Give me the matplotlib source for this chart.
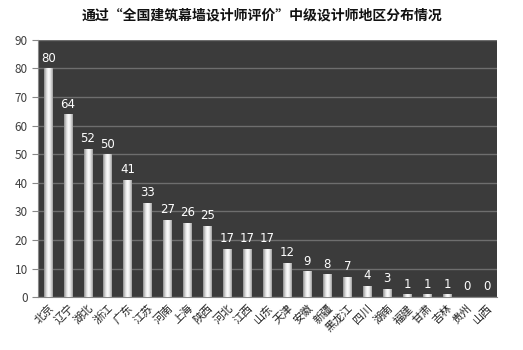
import matplotlib.pyplot as plt
import numpy as np
from matplotlib.colors import LinearSegmentedColormap

plt.rcParams['font.family'] = ['Noto Sans CJK SC', 'DejaVu Sans']

regions = ['北京', '辽宁', '湖北', '浙江', '广东', '江苏', '河南', '上海', '陕西', '河北',
           '江西', '山东', '天津', '安徽', '新疆', '黑龙江', '四川', '湖南', '福建', '甘肃',
           '吉林', '贵州', '山西']
counts = [80, 64, 52, 50, 41, 33, 27, 26, 25, 17, 17, 17, 12, 9, 8, 7, 4, 3, 1, 1, 1, 0, 0]
title = '通过“全国建筑幕墙设计师评价”中级设计师地区分布情况'

fig = plt.figure(figsize=(5.23, 3.5), dpi=100)
ax = fig.add_axes([0.073, 0.151, 0.877, 0.735])
ax.set_facecolor('#3b3b3b')

x = np.arange(len(regions))
width = 0.45
bars = ax.bar(x, counts, width=width, color='none', edgecolor='none', zorder=3)

# cylinder-like shading: white in the middle, grey towards both sides
shade = LinearSegmentedColormap.from_list('shade', ['#8c8c8c', '#d8d8d8', '#ffffff', '#e6e6e6', '#9a9a9a'])
grad = np.linspace(0, 1, 64).reshape(1, -1)
for b in bars:
    h = b.get_height()
    if h <= 0:
        continue
    x0 = b.get_x()
    im = ax.imshow(grad, cmap=shade, aspect='auto', zorder=3,
                   extent=(x0, x0 + b.get_width(), 0, h), interpolation='bicubic')
    im.set_clip_path(b)

for xi, v in zip(x, counts):
    ax.text(xi, v + 1.3, str(v), ha='center', va='bottom', color='white',
            fontsize=8.5, family='DejaVu Sans', zorder=4)

ax.set_xlim(-0.5, len(regions) - 0.5)
ax.set_ylim(0, 90)
ax.set_yticks(range(0, 91, 10))
ax.yaxis.grid(True, color='#6e6e6e', linewidth=1.0, zorder=1)
ax.set_axisbelow(True)

for s in ['top', 'right']:
    ax.spines[s].set_visible(False)
ax.spines['left'].set_color('#888888')
ax.spines['bottom'].set_color('#888888')

ax.tick_params(axis='y', colors='#888888', labelcolor='#404040', labelsize=8.5, length=4)
ax.tick_params(axis='x', length=0, labelsize=8, labelcolor='#222222', pad=4)
ax.set_xticks(x)
ax.set_xticklabels(regions, rotation=45, ha='right', rotation_mode='anchor')

fig.text(0.5, 0.955, title, ha='center', va='center', fontsize=10,
         fontweight='bold', color='#111111')

fig.savefig('out.png', dpi=100)
